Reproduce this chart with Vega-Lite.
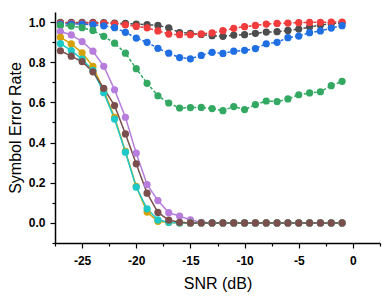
{
  "$schema": "https://vega.github.io/schema/vega-lite/v6.json",
  "width": 325,
  "height": 231,
  "autosize": "none",
  "padding": {"left": 55, "top": 12, "right": 6, "bottom": 54},
  "background": "white",
  "config": {
    "view": {"stroke": null},
    "font": "Liberation Sans"
  },
  "data": {
    "values": [
      {"series":"S1","snr":-27,"ser":0.998},{"series":"S1","snr":-26,"ser":0.998},{"series":"S1","snr":-25,"ser":0.998},{"series":"S1","snr":-24,"ser":0.998},{"series":"S1","snr":-23,"ser":0.997},{"series":"S1","snr":-22,"ser":0.995},{"series":"S1","snr":-21,"ser":0.993},{"series":"S1","snr":-20,"ser":0.99},{"series":"S1","snr":-19,"ser":0.987},{"series":"S1","snr":-18,"ser":0.983},{"series":"S1","snr":-17,"ser":0.971},{"series":"S1","snr":-16,"ser":0.948},{"series":"S1","snr":-15,"ser":0.944},{"series":"S1","snr":-14,"ser":0.938},{"series":"S1","snr":-13,"ser":0.932},{"series":"S1","snr":-12,"ser":0.929},{"series":"S1","snr":-11,"ser":0.935},{"series":"S1","snr":-10,"ser":0.937},{"series":"S1","snr":-9,"ser":0.944},{"series":"S1","snr":-8,"ser":0.95},{"series":"S1","snr":-7,"ser":0.952},{"series":"S1","snr":-6,"ser":0.958},{"series":"S1","snr":-5,"ser":0.965},{"series":"S1","snr":-4,"ser":0.975},{"series":"S1","snr":-3,"ser":0.985},{"series":"S1","snr":-2,"ser":0.992},{"series":"S1","snr":-1,"ser":0.996},
      {"series":"S2","snr":-27,"ser":0.995},{"series":"S2","snr":-26,"ser":0.995},{"series":"S2","snr":-25,"ser":0.995},{"series":"S2","snr":-24,"ser":0.995},{"series":"S2","snr":-23,"ser":0.994},{"series":"S2","snr":-22,"ser":0.991},{"series":"S2","snr":-21,"ser":0.986},{"series":"S2","snr":-20,"ser":0.978},{"series":"S2","snr":-19,"ser":0.971},{"series":"S2","snr":-18,"ser":0.956},{"series":"S2","snr":-17,"ser":0.94},{"series":"S2","snr":-16,"ser":0.937},{"series":"S2","snr":-15,"ser":0.937},{"series":"S2","snr":-14,"ser":0.941},{"series":"S2","snr":-13,"ser":0.946},{"series":"S2","snr":-12,"ser":0.957},{"series":"S2","snr":-11,"ser":0.969},{"series":"S2","snr":-10,"ser":0.977},{"series":"S2","snr":-9,"ser":0.983},{"series":"S2","snr":-8,"ser":0.99},{"series":"S2","snr":-7,"ser":0.993},{"series":"S2","snr":-6,"ser":0.995},{"series":"S2","snr":-5,"ser":0.997},{"series":"S2","snr":-4,"ser":0.998},{"series":"S2","snr":-3,"ser":0.999},{"series":"S2","snr":-2,"ser":1.0},{"series":"S2","snr":-1,"ser":1.0},
      {"series":"S3","snr":-27,"ser":0.99},{"series":"S3","snr":-26,"ser":0.99},{"series":"S3","snr":-25,"ser":0.99},{"series":"S3","snr":-24,"ser":0.987},{"series":"S3","snr":-23,"ser":0.981},{"series":"S3","snr":-22,"ser":0.972},{"series":"S3","snr":-21,"ser":0.949},{"series":"S3","snr":-20,"ser":0.92},{"series":"S3","snr":-19,"ser":0.899},{"series":"S3","snr":-18,"ser":0.869},{"series":"S3","snr":-17,"ser":0.845},{"series":"S3","snr":-16,"ser":0.823},{"series":"S3","snr":-15,"ser":0.817},{"series":"S3","snr":-14,"ser":0.834},{"series":"S3","snr":-13,"ser":0.849},{"series":"S3","snr":-12,"ser":0.844},{"series":"S3","snr":-11,"ser":0.855},{"series":"S3","snr":-10,"ser":0.859},{"series":"S3","snr":-9,"ser":0.868},{"series":"S3","snr":-8,"ser":0.892},{"series":"S3","snr":-7,"ser":0.899},{"series":"S3","snr":-6,"ser":0.922},{"series":"S3","snr":-5,"ser":0.93},{"series":"S3","snr":-4,"ser":0.947},{"series":"S3","snr":-3,"ser":0.956},{"series":"S3","snr":-2,"ser":0.97},{"series":"S3","snr":-1,"ser":0.982},
      {"series":"S4","snr":-27,"ser":0.983},{"series":"S4","snr":-26,"ser":0.98},{"series":"S4","snr":-25,"ser":0.972},{"series":"S4","snr":-24,"ser":0.958},{"series":"S4","snr":-23,"ser":0.929},{"series":"S4","snr":-22,"ser":0.895},{"series":"S4","snr":-21,"ser":0.845},{"series":"S4","snr":-20,"ser":0.768},{"series":"S4","snr":-19,"ser":0.695},{"series":"S4","snr":-18,"ser":0.633},{"series":"S4","snr":-17,"ser":0.597},{"series":"S4","snr":-16,"ser":0.572},{"series":"S4","snr":-15,"ser":0.574},{"series":"S4","snr":-14,"ser":0.575},{"series":"S4","snr":-13,"ser":0.569},{"series":"S4","snr":-12,"ser":0.559},{"series":"S4","snr":-11,"ser":0.579},{"series":"S4","snr":-10,"ser":0.564},{"series":"S4","snr":-9,"ser":0.589},{"series":"S4","snr":-8,"ser":0.607},{"series":"S4","snr":-7,"ser":0.604},{"series":"S4","snr":-6,"ser":0.617},{"series":"S4","snr":-5,"ser":0.638},{"series":"S4","snr":-4,"ser":0.647},{"series":"S4","snr":-3,"ser":0.653},{"series":"S4","snr":-2,"ser":0.683},{"series":"S4","snr":-1,"ser":0.705},
      {"series":"S5","snr":-27,"ser":0.953},{"series":"S5","snr":-26,"ser":0.936},{"series":"S5","snr":-25,"ser":0.903},{"series":"S5","snr":-24,"ser":0.855},{"series":"S5","snr":-23,"ser":0.78},{"series":"S5","snr":-22,"ser":0.663},{"series":"S5","snr":-21,"ser":0.526},{"series":"S5","snr":-20,"ser":0.347},{"series":"S5","snr":-19,"ser":0.191},{"series":"S5","snr":-18,"ser":0.111},{"series":"S5","snr":-17,"ser":0.051},{"series":"S5","snr":-16,"ser":0.034},{"series":"S5","snr":-15,"ser":0.015},{"series":"S5","snr":-14,"ser":0.003},{"series":"S5","snr":-13,"ser":0},{"series":"S5","snr":-12,"ser":0},{"series":"S5","snr":-11,"ser":0},{"series":"S5","snr":-10,"ser":0},{"series":"S5","snr":-9,"ser":0},{"series":"S5","snr":-8,"ser":0},{"series":"S5","snr":-7,"ser":0},{"series":"S5","snr":-6,"ser":0},{"series":"S5","snr":-5,"ser":0},{"series":"S5","snr":-4,"ser":0},{"series":"S5","snr":-3,"ser":0},{"series":"S5","snr":-2,"ser":0},{"series":"S5","snr":-1,"ser":0},
      {"series":"S6","snr":-27,"ser":0.924},{"series":"S6","snr":-26,"ser":0.891},{"series":"S6","snr":-25,"ser":0.847},{"series":"S6","snr":-24,"ser":0.779},{"series":"S6","snr":-23,"ser":0.66},{"series":"S6","snr":-22,"ser":0.525},{"series":"S6","snr":-21,"ser":0.356},{"series":"S6","snr":-20,"ser":0.182},{"series":"S6","snr":-19,"ser":0.054},{"series":"S6","snr":-18,"ser":0.008},{"series":"S6","snr":-17,"ser":0.002},{"series":"S6","snr":-16,"ser":0},{"series":"S6","snr":-15,"ser":0},{"series":"S6","snr":-14,"ser":0},{"series":"S6","snr":-13,"ser":0},{"series":"S6","snr":-12,"ser":0},{"series":"S6","snr":-11,"ser":0},{"series":"S6","snr":-10,"ser":0},{"series":"S6","snr":-9,"ser":0},{"series":"S6","snr":-8,"ser":0},{"series":"S6","snr":-7,"ser":0},{"series":"S6","snr":-6,"ser":0},{"series":"S6","snr":-5,"ser":0},{"series":"S6","snr":-4,"ser":0},{"series":"S6","snr":-3,"ser":0},{"series":"S6","snr":-2,"ser":0},{"series":"S6","snr":-1,"ser":0},
      {"series":"S7","snr":-27,"ser":0.893},{"series":"S7","snr":-26,"ser":0.858},{"series":"S7","snr":-25,"ser":0.815},{"series":"S7","snr":-24,"ser":0.76},{"series":"S7","snr":-23,"ser":0.648},{"series":"S7","snr":-22,"ser":0.517},{"series":"S7","snr":-21,"ser":0.352},{"series":"S7","snr":-20,"ser":0.178},{"series":"S7","snr":-19,"ser":0.07},{"series":"S7","snr":-18,"ser":0.015},{"series":"S7","snr":-17,"ser":0.003},{"series":"S7","snr":-16,"ser":0},{"series":"S7","snr":-15,"ser":0},{"series":"S7","snr":-14,"ser":0},{"series":"S7","snr":-13,"ser":0},{"series":"S7","snr":-12,"ser":0},{"series":"S7","snr":-11,"ser":0},{"series":"S7","snr":-10,"ser":0},{"series":"S7","snr":-9,"ser":0},{"series":"S7","snr":-8,"ser":0},{"series":"S7","snr":-7,"ser":0},{"series":"S7","snr":-6,"ser":0},{"series":"S7","snr":-5,"ser":0},{"series":"S7","snr":-4,"ser":0},{"series":"S7","snr":-3,"ser":0},{"series":"S7","snr":-2,"ser":0},{"series":"S7","snr":-1,"ser":0},
      {"series":"S8","snr":-27,"ser":0.857},{"series":"S8","snr":-26,"ser":0.83},{"series":"S8","snr":-25,"ser":0.803},{"series":"S8","snr":-24,"ser":0.752},{"series":"S8","snr":-23,"ser":0.67},{"series":"S8","snr":-22,"ser":0.584},{"series":"S8","snr":-21,"ser":0.443},{"series":"S8","snr":-20,"ser":0.294},{"series":"S8","snr":-19,"ser":0.148},{"series":"S8","snr":-18,"ser":0.052},{"series":"S8","snr":-17,"ser":0.014},{"series":"S8","snr":-16,"ser":0.003},{"series":"S8","snr":-15,"ser":0},{"series":"S8","snr":-14,"ser":0},{"series":"S8","snr":-13,"ser":0},{"series":"S8","snr":-12,"ser":0},{"series":"S8","snr":-11,"ser":0},{"series":"S8","snr":-10,"ser":0},{"series":"S8","snr":-9,"ser":0},{"series":"S8","snr":-8,"ser":0},{"series":"S8","snr":-7,"ser":0},{"series":"S8","snr":-6,"ser":0},{"series":"S8","snr":-5,"ser":0},{"series":"S8","snr":-4,"ser":0},{"series":"S8","snr":-3,"ser":0},{"series":"S8","snr":-2,"ser":0},{"series":"S8","snr":-1,"ser":0}
    ]
  },
  "encoding": {
    "x": {
      "field": "snr", "type": "quantitative",
      "scale": {"domain": [-27.5, 2.5], "nice": false, "zero": false},
      "axis": {
        "title": "SNR (dB)",
        "values": [-27.5, -25, -22.5, -20, -17.5, -15, -12.5, -10, -7.5, -5, -2.5, 0, 2.5],
        "labelExpr": "datum.value % 5 === 0 ? '' + datum.value : ''",
        "labelOverlap": false,
        "labelFont": "Liberation Sans", "labelFontWeight": "bold", "labelFontSize": 12, "labelColor": "black",
        "labelPadding": 7,
        "titleFont": "Liberation Sans", "titleFontWeight": "normal", "titleFontSize": 16, "titleColor": "black",
        "titlePadding": 9,
        "domainColor": "black", "domainWidth": 1.5,
        "tickColor": "black", "tickWidth": 1.2,
        "tickSize": {"condition": {"test": "datum.value % 5 === 0", "value": 5}, "value": 3},
        "grid": false
      }
    },
    "y": {
      "field": "ser", "type": "quantitative",
      "scale": {"domain": [-0.1, 1.05], "nice": false, "zero": false},
      "axis": {
        "title": "Symbol Error Rate",
        "values": [-0.1, 0, 0.1, 0.2, 0.3, 0.4, 0.5, 0.6, 0.7, 0.8, 0.9, 1.0],
        "labelExpr": "round(datum.value * 10) % 2 === 0 ? format(datum.value, '.1f') : ''",
        "labelOverlap": false,
        "labelFont": "Liberation Sans", "labelFontWeight": "bold", "labelFontSize": 12, "labelColor": "black",
        "labelPadding": 5,
        "titleFont": "Liberation Sans", "titleFontWeight": "normal", "titleFontSize": 16, "titleColor": "black",
        "titlePadding": 5,
        "domainColor": "black", "domainWidth": 1.5,
        "tickColor": "black", "tickWidth": 1.2,
        "tickSize": {"condition": {"test": "round(datum.value * 10) % 2 === 0", "value": 5}, "value": 3},
        "grid": false
      }
    },
    "color": {
      "field": "series", "type": "nominal", "legend": null,
      "scale": {
        "domain": ["S1", "S2", "S3", "S4", "S5", "S6", "S7", "S8"],
        "range": ["#4d4d4d", "#f03c3c", "#1f6fe3", "#33a862", "#b67ddd", "#d4a108", "#1cc8c8", "#7a4e4c"]
      }
    }
  },
  "layer": [
    {
      "mark": {"type": "line", "strokeWidth": 1.5},
      "encoding": {
        "strokeDash": {
          "field": "series", "type": "nominal", "legend": null,
          "scale": {
            "domain": ["S1", "S2", "S3", "S4", "S5", "S6", "S7", "S8"],
            "range": [[3, 2], [3, 2], [3, 2], [3, 2], [1, 0], [1, 0], [1, 0], [1, 0]]
          }
        }
      }
    },
    {
      "mark": {"type": "point", "filled": true, "opacity": 1, "size": 52, "shape": "circle"},
      "encoding": {}
    }
  ]
}
